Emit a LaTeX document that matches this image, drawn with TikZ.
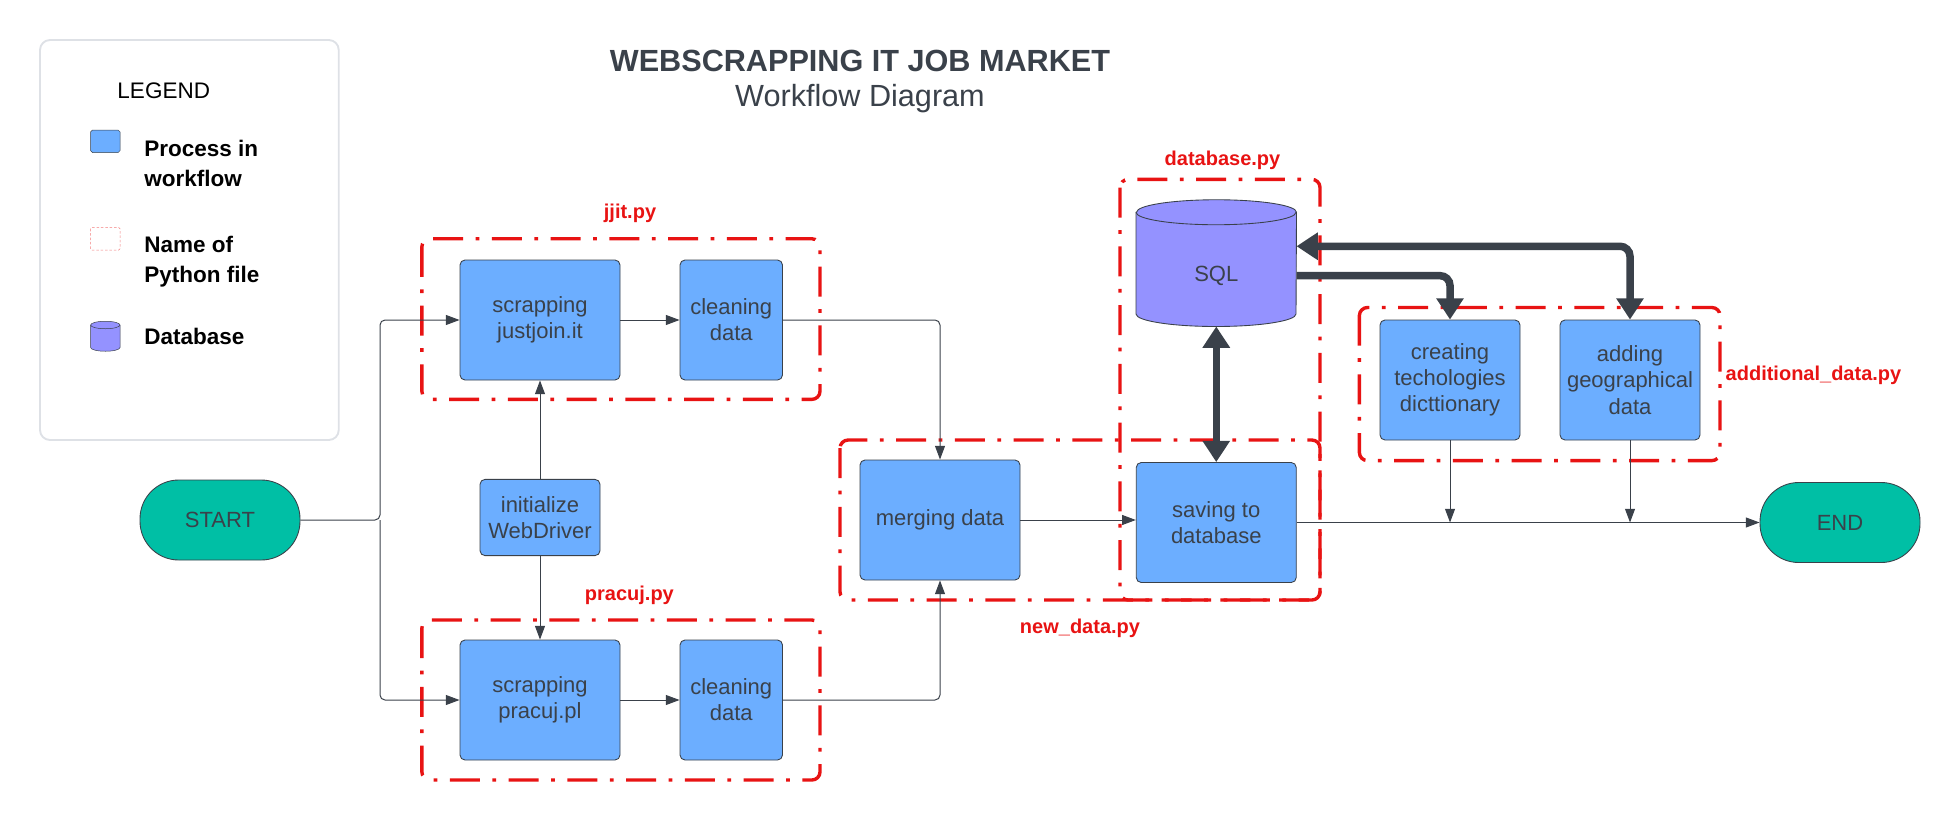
\documentclass[tikz,border=0pt]{standalone}
\usepackage{fontspec}
\setmainfont{Liberation Sans}
\usepackage{tikz}
\usetikzlibrary{arrows.meta, positioning, backgrounds}

\definecolor{procblue}{RGB}{108,174,255}
\definecolor{startgreen}{RGB}{0,191,165}
\definecolor{dbviolet}{RGB}{148,146,255}
\definecolor{filered}{RGB}{232,19,19}
\definecolor{darkline}{RGB}{58,65,74}
\definecolor{legendgray}{RGB}{222,225,230}

\begin{document}
\begin{tikzpicture}[x=1pt, y=-1pt, node distance=152pt, >={Triangle[length=11pt, width=8pt]},
    process/.style={draw=darkline, line width=0.7pt, fill=procblue, rounded corners=4pt, minimum width=128pt, minimum height=96pt, inner sep=2pt, align=center, text=darkline, font=\fontsize{17.6}{21}\selectfont},
    terminal/.style={draw=darkline, line width=0.7pt, fill=startgreen, rounded corners=31pt, minimum width=128pt, minimum height=64pt, text=darkline, font=\fontsize{17.6}{21}\selectfont},
    filename/.style={text=filered, font=\bfseries\fontsize{16}{19}\selectfont},
    fileframe/.style={draw=filered, line width=2.7pt, dash pattern=on 24pt off 10pt on 3pt off 10pt, rounded corners=6.5pt},
    legendtext/.style={anchor=west, align=left, font=\bfseries\fontsize{18}{24}\selectfont},
    flow/.style={draw=darkline, line width=0.8pt, ->, rounded corners=4pt},
    thickflow/.style={draw=darkline, line width=6pt, rounded corners=8pt}]
                \useasboundingbox (0,0) rectangle (1568,656);

                % Legend
                \draw[legendgray, line width=1.5pt, rounded corners=8pt] (32,32) rectangle (271,352);
                \node (legend) at (131,72.5) {\fontsize{18}{22}\selectfont LEGEND};
                \draw[darkline, fill=procblue, rounded corners=1.5pt] (72.5,104) rectangle (96,122);
                \node (legproc) [legendtext] at (112,130.5) {Process in\\workflow};
                \draw[filered!55, dash pattern=on 2pt off 1.5pt, rounded corners=1pt] (72.5,182) rectangle (96,200);
                \node (legfile) [legendtext] at (112,209) {Name of\\Python file};
                \draw[darkline, fill=dbviolet] (72.5,260) -- (72.5,278) arc[start angle=180, end angle=360, x radius=11.75pt, y radius=3pt] -- (96,260) arc[start angle=0, end angle=180, x radius=11.75pt, y radius=3pt] -- cycle;
                \draw[darkline] (72.5,260) arc[start angle=180, end angle=360, x radius=11.75pt, y radius=3pt];
                \node (legdb) [legendtext] at (112,269) {Database};

                % Title
                \node (title) [text=darkline, font=\bfseries\fontsize{24.5}{28}\selectfont] at (688,49) {WEBSCRAPPING IT JOB MARKET};
                \node (subtitle) [text=darkline, font=\fontsize{24.5}{28}\selectfont] at (688,79) {Workflow Diagram};

                % Python files
                \draw[fileframe] (337.5,191) rectangle (656,319.5);
                \draw[fileframe] (337.5,496) rectangle (656,624);
                \draw[fileframe] (896,143.5) rectangle (1056,480);
                \draw[fileframe] (672,352) rectangle (1056,480);
                \draw[fileframe] (1087.5,246) rectangle (1376,368.5);
                \node (jjitpy) [filename] at (504,171) {jjit.py};
                \node (pracujpy) [filename] at (503.5,476) {pracuj.py};
                \node (newdatapy) [filename] at (864,503) {new\_data.py};
                \node (databasepy) [filename] at (978,128) {database.py};
                \node (additionalpy) [filename, anchor=west] at (1377,300) {additional\_data.py};

                % Nodes
                \node (start) [terminal] at (176,416) {START};
                \node (sjj) [process] at (432,256) {scrapping\\justjoin.it};
                \node (cjj) [process, minimum width=82pt, right of=sjj, node distance=153pt] {cleaning\\data};
                \node (init) [process, minimum width=96pt, minimum height=61pt] at (432,414) {initialize\\WebDriver};
                \node (spr) [process] at (432,560) {scrapping\\pracuj.pl};
                \node (cpr) [process, minimum width=82pt, right of=spr, node distance=153pt] {cleaning\\data};
                \node (merge) [process] at (752,416) {merging data};
                \node (save) [process] at (973,418) {saving to\\database};
                \node (sql) [minimum width=128pt, minimum height=81pt, text=darkline, font=\fontsize{17.6}{21}\selectfont] at (973,220.5) {SQL};
                \node (crt) [process, minimum width=112pt] at (1160,304) {creating\\techologies\\dicttionary};
                \node (geo) [process, minimum width=112pt] at (1304,304) {adding\\geographical\\data};
                \node (end) [terminal] at (1472,418) {END};
                \coordinate (fork) at (304,416);

                % SQL cylinder
                \begin{scope}[on background layer]
                \draw[darkline, line width=0.7pt, fill=dbviolet] ([yshift=10pt]sql.north west) -- ([yshift=10pt]sql.south west) arc[start angle=180, end angle=360, x radius=64pt, y radius=10pt] -- ([yshift=10pt]sql.north east) arc[start angle=0, end angle=180, x radius=64pt, y radius=10pt] -- cycle;
                \draw[darkline, line width=0.7pt] ([yshift=10pt]sql.north west) arc[start angle=180, end angle=360, x radius=64pt, y radius=10pt];
                \end{scope}

                % Edges
                \draw[flow] (start.east) -- (fork) |- (sjj.west);
                \draw[flow] (fork) |- (spr.west);
                \draw[flow] (sjj) -- (cjj);
                \draw[flow] (spr) -- (cpr);
                \draw[flow] (init) -- (sjj);
                \draw[flow] (init) -- (spr);
                \draw[flow] (cjj.east) -| (merge.north);
                \draw[flow] (cpr.east) -| (merge.south);
                \draw[flow] (merge.east) -- (merge.east -| save.west);
                \draw[flow] (save.east) -- (end.west);
                \draw[flow] (crt.south) -- (crt.south |- save.east);
                \draw[flow] (geo.south) -- (geo.south |- save.east);
                \draw[thickflow, {Triangle[length=17pt, width=21pt]}-{Triangle[length=17pt, width=21pt]}] (save.north) -- (sql.south);
                \draw[thickflow, -{Triangle[length=17pt, width=21pt]}] (sql.east) -| (crt.north);
                \draw[thickflow, {Triangle[length=17pt, width=21pt]}-{Triangle[length=17pt, width=21pt]}] ([yshift=23.5pt]sql.east) -| (geo.north);
            \end{tikzpicture}
\end{document}
